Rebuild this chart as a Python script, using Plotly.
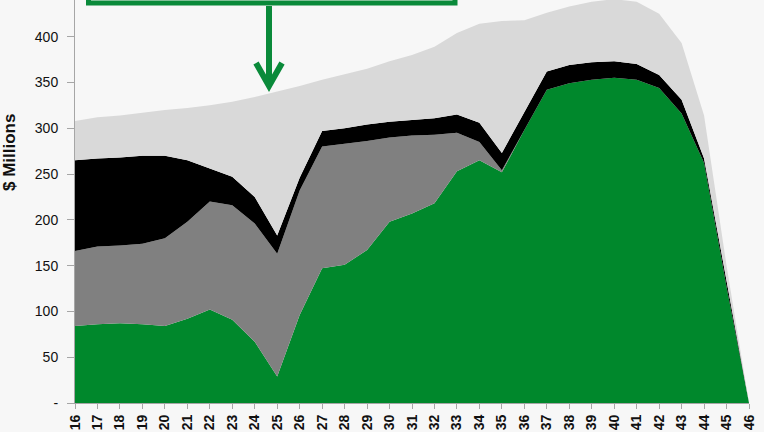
import plotly.graph_objects as go

years = list(range(16, 47))
tick_labels = [str(y) for y in years]

green = [84, 86, 87, 86, 84, 92, 102, 91, 67, 29, 96, 147, 151, 167, 198, 207, 218, 253, 265, 252,
         298, 342, 349, 353, 355, 353, 344, 316, 262, 127, 0]
gray = [82, 85, 85, 88, 96, 106, 118, 125, 129, 134, 136, 133, 132, 119, 92, 85, 75, 42, 20, 2,
        0, 0, 0, 0, 0, 0, 0, 0, 0, 0, 0]
black = [99, 96, 96, 96, 90, 67, 36, 31, 29, 20, 14, 17, 17, 18, 17, 17, 18, 20, 21, 19,
         20, 20, 20, 19, 18, 17, 14, 15, 5, 5, 0]
light = [43, 45, 46, 47, 50, 57, 69, 82, 109, 157, 100, 56, 59, 61, 66, 71, 78, 89, 108, 144,
         100, 64, 64, 66, 68, 68, 67, 62, 47, 18, 0]

y_ticks = [0, 50, 100, 150, 200, 250, 300, 350, 400]
y_tick_labels = ["-", "50", "100", "150", "200", "250", "300", "350", "400"]

series = [
    ("green", green, "#00882c"),
    ("gray", gray, "#808080"),
    ("black", black, "#000000"),
    ("light", light, "#d9d9d9"),
]

fig = go.Figure()
for name, vals, col in series:
    fig.add_trace(go.Scatter(
        x=years, y=vals, name=name, mode="lines", stackgroup="one",
        line=dict(width=0, color=col), fillcolor=col, showlegend=False,
        hoverinfo="skip",
    ))

W, H = 764, 432
L, R, T, B = 75, 15, 0, 29
pw, ph = W - L - R, H - T - B


def px(xp):
    return (xp - L) / pw


def py(yp):
    return (H - B - yp) / ph


box_green = "#0a8a3a"
shapes = [
    dict(type="rect", xref="paper", yref="paper",
         x0=px(88.5), x1=px(455), y0=py(3), y1=py(-60),
         line=dict(color=box_green, width=5), fillcolor="rgba(0,0,0,0)", layer="above"),
    dict(type="line", xref="paper", yref="paper",
         x0=px(269), x1=px(269), y0=py(6), y1=py(84),
         line=dict(color=box_green, width=6), layer="above"),
    dict(type="path", xref="paper", yref="paper",
         path=f"M {px(256)},{py(63)} L {px(269)},{py(86)} L {px(282)},{py(63)}",
         line=dict(color=box_green, width=6), layer="above"),
]

font = "Liberation Sans, Arial, sans-serif"
fig.update_layout(
    width=W, height=H,
    margin=dict(l=L, r=R, t=T, b=B, autoexpand=False),
    paper_bgcolor="#f7f7f7", plot_bgcolor="#f7f7f7",
    font=dict(family=font, size=14, color="#111111"),
    shapes=shapes,
    xaxis=dict(
        range=[16, 46], tickvals=years, ticktext=tick_labels, tickangle=-90,
        showgrid=False, zeroline=False, showline=True, linecolor="#a6a6a6", linewidth=1,
        ticks="outside", ticklen=5, tickcolor="#a6a6a6", automargin=False,
        tickfont=dict(family=font, size=14, color="#111111", weight="bold"),
    ),
    yaxis=dict(
        range=[0, 440], tickvals=y_ticks, ticktext=y_tick_labels,
        showgrid=False, zeroline=False, showline=True, linecolor="#a6a6a6", linewidth=1,
        ticks="outside", ticklen=7, tickcolor="#a6a6a6", ticklabelstandoff=6,
        automargin=False,
        tickfont=dict(family=font, size=14, color="#111111"),
    ),
    annotations=[
        dict(text="<b>$ Millions</b>", xref="paper", yref="paper",
             x=px(9), y=py(153), xanchor="center", yanchor="middle",
             textangle=-90, showarrow=False,
             font=dict(family=font, size=17, color="#111111")),
    ],
)

fig.write_html(
    "out.html",
    config={"displayModeBar": False},
    post_script="document.body.style.margin='0';document.body.style.background='#f7f7f7';",
)
